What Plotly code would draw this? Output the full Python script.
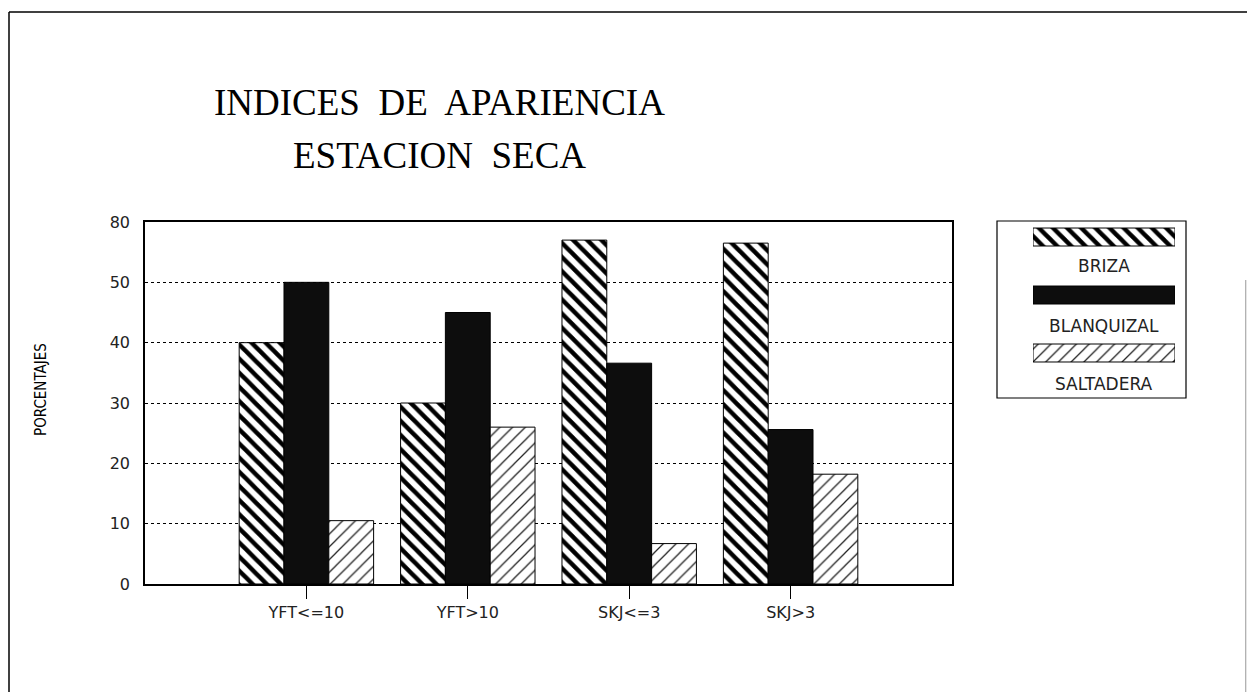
import plotly.graph_objects as go

# page body has an 8px margin; figure sized to fit within the window
OFF = 8
W, H = 1255 - 2 * OFF, 700 - 2 * OFF

categories = ["YFT<=10", "YFT>10", "SKJ<=3", "SKJ>3"]
series_names = ["BRIZA", "BLANQUIZAL", "SALTADERA"]
briza = [40, 30, 57, 56.5]
blanquizal = [50, 45, 36.6, 25.6]
saltadera = [10.5, 26, 6.7, 18.2]
y_tick_values = [0, 10, 20, 30, 40, 50, 60]
y_tick_labels = ["0", "10", "20", "30", "40", "50", "80"]
title_line1 = "INDICES\u00a0 DE\u00a0 APARIENCIA"
title_line2 = "ESTACION\u00a0 SECA"
y_title = "PORCENTAJES"

styles = {
    "BRIZA": dict(color="white", pattern=dict(shape="\\", fgcolor="black", bgcolor="white", size=10, solidity=0.45, fillmode="replace")),
    "BLANQUIZAL": dict(color="#0d0d0d"),
    "SALTADERA": dict(color="white", pattern=dict(shape="/", fgcolor="#222", bgcolor="white", size=9, solidity=0.14, fillmode="replace")),
}
values = {"BRIZA": briza, "BLANQUIZAL": blanquizal, "SALTADERA": saltadera}


def px_x(p):
    return (p - OFF) / W


def px_y(p):
    return 1 - (p - OFF) / H


fig = go.Figure()
for name in series_names:
    st = styles[name]
    marker = dict(color=st["color"], line=dict(color="black", width=1))
    if "pattern" in st:
        marker["pattern"] = st["pattern"]
    fig.add_trace(go.Bar(x=categories, y=values[name], name=name, marker=marker,
                         showlegend=False, xaxis="x", yaxis="y"))

# legend swatches on an auxiliary axis
for name in series_names:
    st = styles[name]
    marker = dict(color=st["color"], line=dict(color="black", width=1))
    if "pattern" in st:
        marker["pattern"] = st["pattern"]
    fig.add_trace(go.Bar(x=[1], y=[name], orientation="h", marker=marker, width=0.31,
                         offsetgroup="leg", showlegend=False, xaxis="x2", yaxis="y2",
                         hoverinfo="skip"))

tick_font = dict(family="DejaVu Sans, Liberation Sans, sans-serif", size=16, color="#222")

fig.update_layout(
    width=W, height=H,
    margin=dict(l=0, r=0, t=0, b=0),
    paper_bgcolor="white", plot_bgcolor="white",
    barmode="group", bargap=0.167, bargroupgap=0,
    showlegend=False,
    xaxis=dict(domain=[px_x(145), px_x(952)], anchor="y", type="category",
               categoryorder="array", categoryarray=categories, range=[-1, 4],
               showline=True, linecolor="black", linewidth=2, mirror=True,
               ticks="outside", ticklen=13, tickcolor="black", tickwidth=1,
               tickfont=tick_font, showgrid=False, zeroline=False, automargin=False),
    yaxis=dict(domain=[px_y(584), px_y(222)], anchor="x", range=[0, 60],
               tickvals=y_tick_values, ticktext=y_tick_labels,
               showline=True, linecolor="black", linewidth=1.5, mirror=True,
               ticks="", ticklabelstandoff=10, tickfont=tick_font,
               showgrid=True, gridcolor="black", gridwidth=1, griddash="dot",
               zeroline=False, automargin=False),
    xaxis2=dict(domain=[px_x(1033), px_x(1175)], anchor="y2", range=[0, 1], visible=False),
    yaxis2=dict(domain=[px_y(398), px_y(222)], anchor="x2", type="category",
                categoryorder="array", categoryarray=series_names,
                range=[2.776, -0.259], visible=False),
)

# legend labels and box
leg_label_y = [266, 326, 384]
for name, yy in zip(series_names, leg_label_y):
    fig.add_annotation(text=name, x=px_x(1104), y=px_y(yy), xref="paper", yref="paper",
                       showarrow=False, xanchor="center", yanchor="middle",
                       font=dict(family="DejaVu Sans, Liberation Sans, sans-serif", size=17, color="#222"))
fig.add_shape(type="rect", xref="paper", yref="paper",
              x0=px_x(997), x1=px_x(1186), y0=px_y(398), y1=px_y(221),
              line=dict(color="black", width=1.2))

# titles
title_font = dict(family="Liberation Serif, DejaVu Serif, serif", size=37, color="black")
fig.add_annotation(text=title_line1, x=px_x(440), y=px_y(102), xref="paper", yref="paper",
                   showarrow=False, xanchor="center", yanchor="middle", font=title_font)
fig.add_annotation(text=title_line2, x=px_x(440), y=px_y(155), xref="paper", yref="paper",
                   showarrow=False, xanchor="center", yanchor="middle", font=title_font)

# y axis title
fig.add_annotation(text=y_title, x=px_x(41), y=px_y(390), xref="paper", yref="paper",
                   showarrow=False, textangle=-90, xanchor="center", yanchor="middle",
                   font=dict(family="DejaVu Sans Condensed, Liberation Sans Narrow, sans-serif",
                             size=15, color="black"))

# outer frame of the page (top and left edges, right edge at window border)
fig.add_shape(type="line", xref="paper", yref="paper",
              x0=px_x(9), x1=1, y0=px_y(12), y1=px_y(12),
              line=dict(color="black", width=1.5))
fig.add_shape(type="line", xref="paper", yref="paper",
              x0=px_x(9), x1=px_x(9), y0=px_y(12), y1=0,
              line=dict(color="black", width=1.5))
fig.add_shape(type="line", xref="paper", yref="paper",
              x0=0.999, x1=0.999, y0=px_y(280), y1=0,
              line=dict(color="#999", width=1))

fig.write_html("out.html")
